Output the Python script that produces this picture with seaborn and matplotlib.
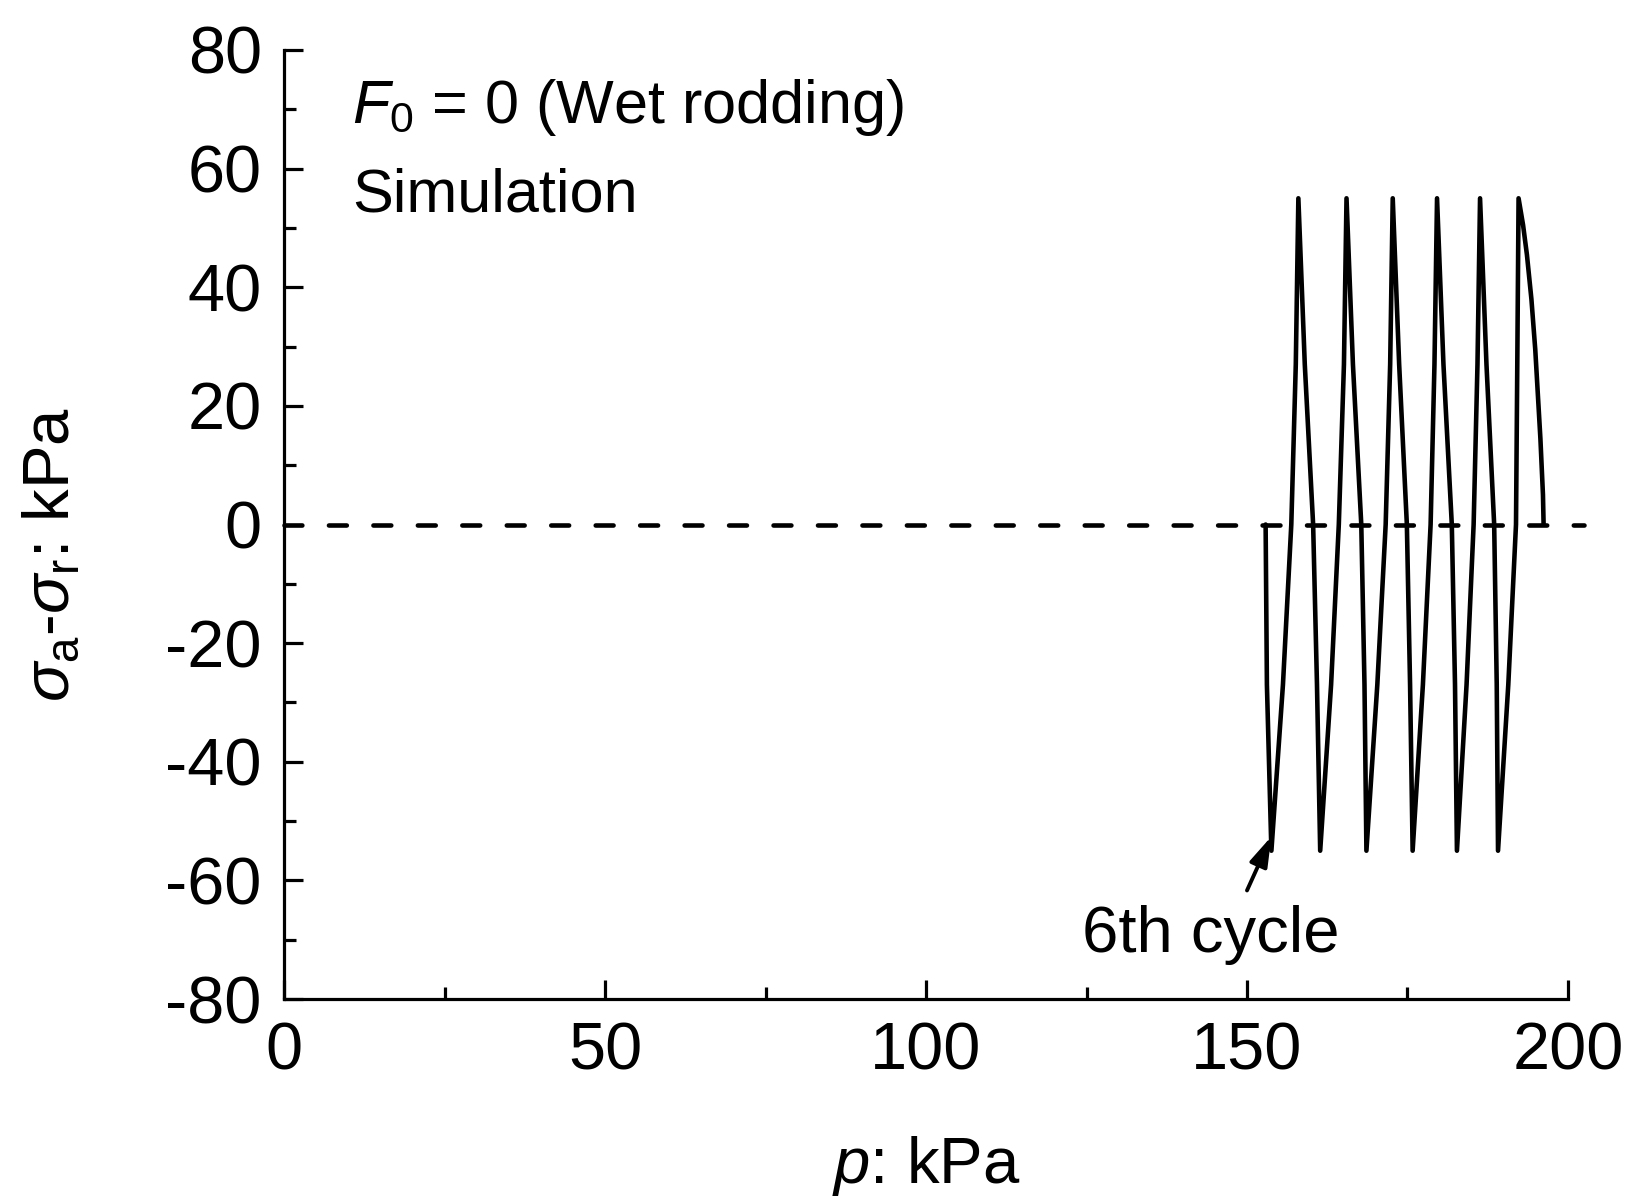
import numpy as np
import pandas as pd
import matplotlib
matplotlib.use("Agg")
import matplotlib.pyplot as plt
import seaborn as sns
from matplotlib.ticker import MultipleLocator
from matplotlib.patches import ArrowStyle

# ---- data ----
p_kpa = [152.9, 153.1, 153.8,
         155.6, 156.9, 157.6, 158.0,
         159.0, 160.3, 160.9, 161.4,
         163.1, 164.3, 165.1, 165.5,
         166.5, 167.8, 168.3, 168.6,
         170.3, 171.6, 172.3, 172.7,
         173.7, 174.9, 175.4, 175.8,
         177.4, 178.6, 179.2, 179.6,
         180.6, 181.9, 182.4, 182.7,
         184.2, 185.3, 185.9, 186.3,
         187.3, 188.5, 188.9, 189.1,
         190.7, 191.9, 192.1, 192.3,
         193.0, 193.6, 194.3, 194.9, 195.7, 196.1, 196.2]
q_kpa = [0, -27, -55,
         -27, 0, 27, 55,
         27, 0, -27, -55,
         -27, 0, 27, 55,
         27, 0, -27, -55,
         -27, 0, 27, 55,
         27, 0, -27, -55,
         -27, 0, 27, 55,
         27, 0, -27, -55,
         -27, 0, 27, 55,
         27, 0, -27, -55,
         -27, 0, 27, 55,
         50.5, 45.5, 38.0, 29.5, 14.5, 5.0, 0]
zero_line_p = [0, 202.5]
zero_line_q = [0, 0]
arrow_head = (153.8, -52.6)
arrow_tail = (150.0, -61.7)
x_ticks = [0, 50, 100, 150, 200]
y_ticks = [-80, -60, -40, -20, 0, 20, 40, 60, 80]

sns.set_theme(style="ticks")
plt.rcParams["font.family"] = ["Liberation Sans", "DejaVu Sans"]
plt.rcParams["mathtext.fontset"] = "custom"
plt.rcParams["mathtext.rm"] = "Liberation Sans"
plt.rcParams["mathtext.it"] = "Liberation Sans:italic"
plt.rcParams["mathtext.bf"] = "Liberation Sans:bold"
plt.rcParams["axes.unicode_minus"] = False
plt.rcParams["text.color"] = "black"

fig = plt.figure(figsize=(16.32, 12.04), dpi=100)
ax = fig.add_axes([284 / 1632, 1 - 999 / 1204, 1284 / 1632, 949 / 1204])

df = pd.DataFrame({"p": p_kpa, "q": q_kpa})
sns.lineplot(data=df, x="p", y="q", sort=False, estimator=None, color="black",
             linewidth=3.3, ax=ax)
for ln in ax.lines:
    ln.set_linewidth(3.3)
    ln.set_solid_joinstyle("round")
    ln.set_solid_capstyle("round")
zl, = ax.plot(zero_line_p, zero_line_q, color="black", linewidth=3.3, clip_on=False,
              dash_capstyle="round")
zl.set_dashes([3.9, 5.8])

ax.set_xlim(0, 200)
ax.set_ylim(-80, 80)
ax.set_xticks(x_ticks)
ax.set_yticks(y_ticks)
ax.xaxis.set_minor_locator(MultipleLocator(25))
ax.yaxis.set_minor_locator(MultipleLocator(10))
ax.tick_params(which="major", direction="in", length=14, width=2.3,
               labelsize=48, color="black", labelcolor="black")
ax.tick_params(axis="y", which="major", pad=16)
ax.tick_params(axis="x", which="major", pad=16)
ax.tick_params(which="minor", direction="in", length=8.5, width=2.3, color="black")
for s in ["top", "right"]:
    ax.spines[s].set_visible(False)
for s in ["left", "bottom"]:
    ax.spines[s].set_linewidth(2.3)
    ax.spines[s].set_color("black")
ax.set_facecolor("white")

ax.set_xlabel(r"$p$: kPa", fontsize=47, color="black")
ax.xaxis.set_label_coords(0.5, -0.176)
ax.xaxis.label.set_va("center")
ax.set_ylabel(r"$\sigma_\mathrm{a}$-$\sigma_\mathrm{r}$: kPa", fontsize=47, color="black")
ax.yaxis.set_label_coords(-0.181, 0.468)
ax.yaxis.label.set_va("center")

ax.text(10.6, 67.7, r"$F_\mathrm{0}$ = 0 (Wet rodding)", fontsize=44,
        va="baseline", ha="left", color="black")
ax.text(10.6, 52.8, "Simulation", fontsize=44, va="baseline", ha="left", color="black")

ax.text(144.3, -72.1, "6th cycle", fontsize=47, va="baseline", ha="center", color="black")
ax.annotate("", xy=arrow_head, xytext=arrow_tail,
            arrowprops=dict(arrowstyle=ArrowStyle("-|>", head_length=0.9, head_width=0.28),
                            mutation_scale=20, lw=2.8, color="black",
                            shrinkA=0, shrinkB=0))

fig.savefig("out.png", dpi=100, facecolor="white")
